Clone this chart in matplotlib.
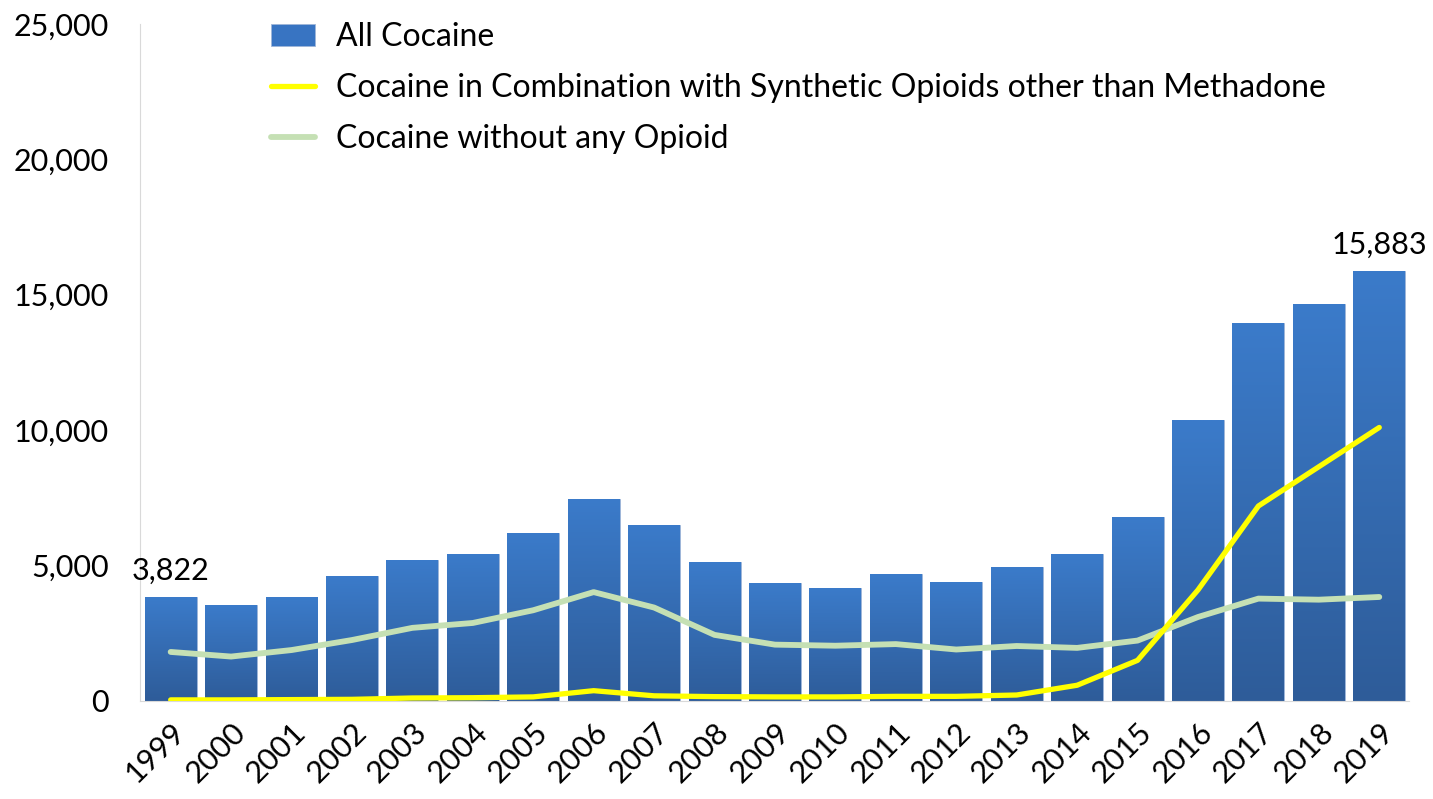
import numpy as np
import matplotlib.pyplot as plt
from matplotlib.colors import LinearSegmentedColormap

years = [str(y) for y in range(1999, 2020)]
all_cocaine = [3822, 3544, 3833, 4599, 5199, 5443, 6208, 7448, 6512, 5129,
               4350, 4183, 4681, 4404, 4944, 5415, 6784, 10375, 13942, 14666, 15883]
with_synth = [40, 40, 50, 60, 110, 120, 150, 380, 190, 160,
              150, 150, 170, 170, 220, 580, 1500, 4100, 7200, 8650, 10100]
without_opioid = [1810, 1640, 1880, 2250, 2700, 2880, 3350, 4020, 3450, 2440,
                  2080, 2040, 2100, 1900, 2030, 1960, 2230, 3100, 3780, 3740, 3840]

plt.rcParams['font.family'] = ['Lato', 'DejaVu Sans']

fig = plt.figure(figsize=(14.33, 7.99), dpi=100)
ax = fig.add_axes([0.098, 0.1227, 0.8856, 0.8473])

x = np.arange(len(years))
bars = ax.bar(x, all_cocaine, width=0.86, color='#3874c2', label='All Cocaine',
              zorder=2, edgecolor='#9fb6d8', linewidth=0.6)

# vertical gradient on each bar
cmap = LinearSegmentedColormap.from_list('g', ['#2e5c99', '#3b7bca'])
grad = np.linspace(0, 1, 256).reshape(-1, 1)
for b in bars:
    x0, y0 = b.get_x(), b.get_y()
    im = ax.imshow(grad, cmap=cmap, origin='lower', aspect='auto',
                   extent=[x0, x0 + b.get_width(), y0, y0 + b.get_height()],
                   zorder=2.1)
    im.set_clip_path(b)

l1, = ax.plot(x, with_synth, color='#ffff00', lw=3.8, zorder=4, solid_capstyle='round',
              label='Cocaine in Combination with Synthetic Opioids other than Methadone')
l2, = ax.plot(x, without_opioid, color='#c5e0b4', lw=4.2, zorder=3, solid_capstyle='round',
              label='Cocaine without any Opioid')

ax.text(x[0], all_cocaine[0] + 450, f'{all_cocaine[0]:,}', ha='center', va='bottom', fontsize=22)
ax.text(x[-1], all_cocaine[-1] + 450, f'{all_cocaine[-1]:,}', ha='center', va='bottom', fontsize=22)

ax.set_xlim(-0.5, len(years) - 0.5)
ax.set_ylim(0, 25000)
ax.set_yticks(range(0, 25001, 5000))
ax.set_yticklabels([f'{v:,}' for v in range(0, 25001, 5000)], fontsize=22)
ax.set_xticks(x)
ax.set_xticklabels(years, rotation=45, ha='right', rotation_mode='anchor', fontsize=22)
ax.tick_params(length=0)
ax.tick_params(axis='x', pad=12)
ax.tick_params(axis='y', pad=23)

for s in ['top', 'right']:
    ax.spines[s].set_visible(False)
ax.spines['left'].set_color('#d9d9d9')
ax.spines['bottom'].set_color('#d9d9d9')

ax.legend(handles=[bars, l1, l2], loc='upper left', bbox_to_anchor=(0.08, 1.045),
          frameon=False, fontsize=23, handlelength=1.4, labelspacing=0.66,
          handletextpad=0.65)

fig.savefig('out.png', dpi=100)
